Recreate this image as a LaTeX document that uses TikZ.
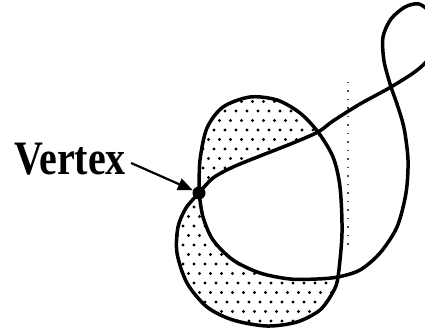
\documentclass[tikz,border=0pt]{standalone}
\usepackage{fontspec}
\setmainfont{Liberation Serif}
\usepackage{graphicx}
\usetikzlibrary{arrows.meta,positioning}

\begin{document}
\begin{tikzpicture}[x=1pt, y=-1pt, line join=round,
    curve/.style={line width=3.5pt},
    arr/.style={line width=2.2pt, -{Triangle[length=15pt,width=12pt]}}]
  \useasboundingbox (0,0) rectangle (425,328);
  % crossing points of the curve
  \coordinate (V) at (199,193);
  \coordinate (P1) at (318,132);
  \coordinate (P2) at (338,277);
  \coordinate (P3) at (391,87);
  % stippled faces next to the vertex
  \begin{scope}
    \clip plot[smooth] coordinates {(V) (200,160) (207,128) (223,107) (250,97) (277,100) (300,113) (P1)}
      -- plot[smooth] coordinates {(P1) (293,143) (260,156) (233,167) (213,178) (V)} -- cycle;
    \foreach \j in {0,...,9}
      \foreach \i in {0,...,12}
        \fill ({192+11*\i+5.5*mod(\j,2)},{92+9.5*\j}) circle (1.6pt);
  \end{scope}
  \begin{scope}
    \clip plot[smooth] coordinates {(V) (203,217) (213,240) (233,260) (260,273) (290,279) (317,279) (P2)}
      -- plot[smooth] coordinates {(P2) (333,292) (320,310) (297,322) (267,326) (233,320) (207,307) (187,283) (177,253) (178,227) (186,208) (V)} -- cycle;
    \foreach \j in {0,...,15}
      \foreach \i in {0,...,17}
        \fill ({172+11*\i+5.5*mod(\j,2)},{188+9.5*\j}) circle (1.6pt);
  \end{scope}
  % faint scan line
  \draw[black!70, line width=1.5pt, dash pattern=on 1.5pt off 7pt] (348,82) -- (348,245);
  % the curve
  \draw[curve] plot[smooth] coordinates {(V) (200,160) (207,128) (223,107) (250,97) (277,100) (300,113) (P1)
    (333,157) (340,187) (342,233) (P2) (333,292) (320,310) (297,322) (267,326) (233,320) (207,307)
    (187,283) (177,253) (178,227) (186,208) (V)};
  \draw[curve] plot[smooth] coordinates {(V) (203,217) (213,240) (233,260) (260,273) (290,279) (317,279) (P2)
    (360,270) (380,253) (397,227) (406,193) (408,160) (404,128) (397,104) (P3) (384,61) (383,37) (391,19)
    (405,7) (419,4) (431,14) (437,36) (430,57) (416,71) (P3) (360,104) (333,121) (P1) (293,143) (260,156)
    (233,167) (213,178) (V)};
  \node[circle, fill, inner sep=0pt, minimum size=13pt] (v) at (V) {};
  \node[font=\bfseries\fontsize{40}{40}\selectfont, inner sep=2pt] (lbl) at (70,159) {\scalebox{1}[1.2]{Vertex}};
  \draw[arr] ([xshift=3pt,yshift=-4pt]lbl.east) -- (v);
\end{tikzpicture}
\end{document}
